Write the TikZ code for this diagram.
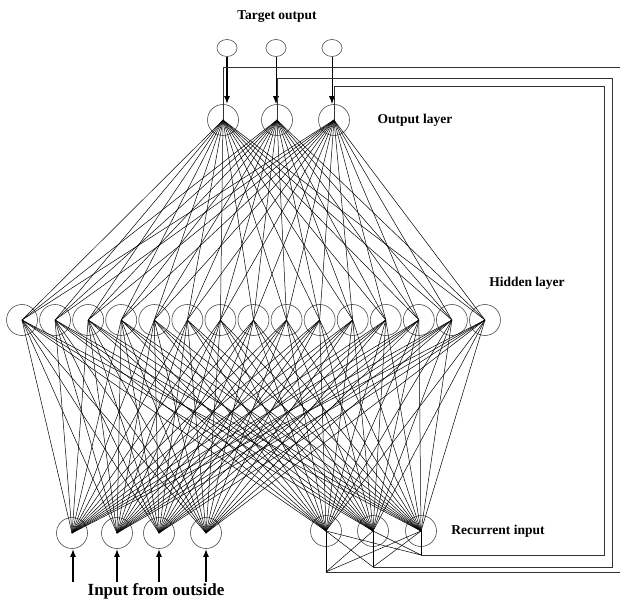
\documentclass[tikz,border=0pt]{standalone}
\usepackage{fontspec}
\setmainfont{Liberation Serif}
\usetikzlibrary{shapes.geometric,arrows.meta,positioning}
\tikzset{
  neuron/.style={circle,draw=black!70,line width=0.6pt,minimum size=31pt,inner sep=0pt},
  target/.style={ellipse,draw=black!70,line width=0.6pt,minimum width=20pt,minimum height=17pt,inner sep=0pt},
  synapse/.style={line width=0.5pt,draw=black},
  feed/.style={-{Latex[length=8pt,width=6pt]},line width=1.8pt},
  thinfeed/.style={-{Latex[length=8pt,width=6pt]},line width=1pt},
  loopline/.style={line width=0.7pt,draw=black!80},
  caption/.style={font=\fontsize{13.5}{16}\selectfont\bfseries}
}
\begin{document}
\begin{tikzpicture}[x=1pt,y=-1pt]
  \useasboundingbox (0,0) rectangle (620,601);
  \node[caption] (ttl) at (277,17) {Target output};
  \node[target] (t1) at (227,48) {};
  \node[target] (t2) at (276,48) {};
  \node[target] (t3) at (332,48) {};
  \node[neuron] (o1) at (223,120) {};
  \node[neuron] (o2) at (277,120) {};
  \node[neuron] (o3) at (334,120) {};
  \foreach \h in {1,...,15}
    \node[neuron] (h\h) at ({22+(\h-1)*33.07},320) {};
  \foreach \i/\x in {1/72,2/117,3/159,4/206}
    \node[neuron] (i\i) at (\x,533) {};
  \foreach \r/\x in {1/326,2/373,3/421}
    \node[neuron] (r\r) at (\x,531) {};
  \node[caption] (outlbl) at (415,120) {Output layer};
  \node[caption] (hidlbl) at (527,283) {Hidden layer};
  \node[caption] (reclbl) at (498,531) {Recurrent input};
  \node[caption,font=\fontsize{17}{20}\selectfont\bfseries] (inlbl) at (156,591) {Input from outside};

  \foreach \o in {1,2,3}
    \foreach \h in {1,...,15}
      \draw[synapse] (o\o.center) -- (h\h.center);
  \foreach \h in {1,...,15} {
    \foreach \i in {1,...,4}
      \draw[synapse] (h\h.center) -- (i\i.center);
    \foreach \r in {1,2,3}
      \draw[synapse] (h\h.center) -- (r\r.center);
  }

  \draw[feed] (t1.south) -- (t1.south |- o1.north);
  \draw[thinfeed] (t2.south) -- (t2.south |- o2.north);
  \draw[thinfeed] (t3.south) -- (t3.south |- o3.north);
  \foreach \i/\x in {1/73,2/117,3/159,4/206} {
    \coordinate (u\i) at (\x,582);
    \draw[feed] (u\i) -- (u\i |- i\i.south);
  }

  \coordinate (k1) at (624,67);
  \coordinate (k2) at (612,78);
  \coordinate (k3) at (604,86);
  \coordinate (c1) at (326,572);
  \coordinate (c2) at (373,567);
  \coordinate (c3) at (421,555);
  \foreach \n in {1,2,3}
    \draw[loopline] (o\n.center) |- (k\n) |- (c\n) -- (r\n.center);
  \foreach \c in {1,2,3}
    \foreach \r in {1,2,3}
      \draw[synapse] (c\c) -- (r\r.center);
\end{tikzpicture}
\end{document}
